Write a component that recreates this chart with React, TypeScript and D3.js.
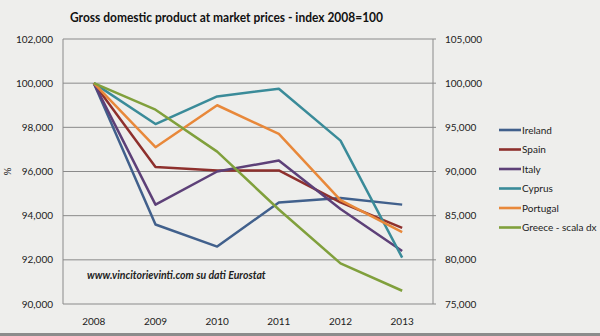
import React from "react";
import * as d3 from "d3";

const years = ["2008", "2009", "2010", "2011", "2012", "2013"];
const ireland = [100, 93.6, 92.6, 94.6, 94.8, 94.5];
const spain = [100, 96.2, 96.05, 96.05, 94.6, 93.45];
const italy = [100, 94.5, 96.0, 96.5, 94.3, 92.4];
const cyprus = [100, 98.15, 99.4, 99.75, 97.4, 92.1];
const portugal = [100, 97.1, 99.0, 97.7, 94.7, 93.25];
const greece = [100, 97.0, 92.25, 85.7, 79.6, 76.5];
const leftTicks = [90, 92, 94, 96, 98, 100, 102];
const rightTicks = [75, 80, 85, 90, 95, 100, 105];

const seriesNames = ["Ireland", "Spain", "Italy", "Cyprus", "Portugal", "Greece - scala dx"];
const seriesColors = ["#41608c", "#8e302d", "#5d4078", "#3a8b99", "#e8883a", "#80a03c"];

const W = 600, H = 336;
const plotL = 63, plotR = 433, plotT = 39, plotB = 304;

const fmt = d3.formatLocale({ decimal: ",", thousands: ".", grouping: [3], currency: ["", ""] }).format(".3f");
const FONT = "Lato, 'Open Sans', sans-serif";

export default function App() {
  const x = d3.scaleBand<string>().domain(years).range([plotL, plotR]);
  const cx = (d: string) => (x(d) as number) + x.bandwidth() / 2;
  const yL = d3.scaleLinear().domain([90, 102]).range([plotB, plotT]);
  const yR = d3.scaleLinear().domain([75, 105]).range([plotB, plotT]);

  const leftSeries = [ireland, spain, italy, cyprus, portugal];
  const lineL = d3.line<number>().x((_, i) => cx(years[i])).y((v) => yL(v));
  const lineR = d3.line<number>().x((_, i) => cx(years[i])).y((v) => yR(v));

  return (
    <svg width={W} height={H} style={{ position: "absolute", left: 0, top: 0, display: "block" }}>
      <rect x={0} y={0} width={W} height={H} fill="#eeeeec" />
      <rect x={0} y={333} width={W} height={3} fill="#8c8c8c" />
      <text x={70} y={22} fontFamily={FONT} fontWeight="bold" fontSize={13.5} textLength={313} lengthAdjust="spacingAndGlyphs" fill="#111">
        Gross domestic product at market prices - index 2008=100
      </text>
      {leftTicks.map((t) => (
        <g key={"l" + t}>
          <line x1={plotL} x2={plotR + 3} y1={yL(t)} y2={yL(t)} stroke="#8a8a8a" strokeWidth={1} />
          <text x={53} y={yL(t)} dy="0.35em" textAnchor="end" fontFamily={FONT} fontSize={10} fill="#222">
            {fmt(t)}
          </text>
        </g>
      ))}
      {rightTicks.map((t) => (
        <text key={"r" + t} x={445} y={yR(t)} dy="0.35em" fontFamily={FONT} fontSize={10} fill="#222">
          {fmt(t)}
        </text>
      ))}
      <line x1={plotL} x2={plotL} y1={plotT} y2={plotB} stroke="#8a8a8a" />
      <line x1={plotR} x2={plotR} y1={plotT} y2={plotB} stroke="#8a8a8a" />
      {years.map((yr) => (
        <text key={yr} x={cx(yr)} y={325} textAnchor="middle" fontFamily={FONT} fontSize={10} fill="#222">
          {yr}
        </text>
      ))}
      <text transform={`translate(11,${(plotT + plotB) / 2}) rotate(-90)`} textAnchor="middle" fontFamily={FONT} fontSize={10} fill="#222">
        %
      </text>
      <text x={87} y={279} fontFamily={FONT} fontWeight="bold" fontStyle="italic" fontSize={10.5} fill="#222">
        www.vincitorievinti.com su dati Eurostat
      </text>
      {leftSeries.map((s, i) => (
        <path key={seriesNames[i]} d={lineL(s) as string} fill="none" stroke={seriesColors[i]} strokeWidth={2.5} strokeLinejoin="round" />
      ))}
      <path d={lineR(greece) as string} fill="none" stroke={seriesColors[5]} strokeWidth={2.5} strokeLinejoin="round" />
      {seriesNames.map((n, i) => (
        <g key={"lg" + n} transform={`translate(499,${130 + i * 19.5})`}>
          <line x1={0} x2={22} y1={0} y2={0} stroke={seriesColors[i]} strokeWidth={2.6} />
          <text x={23} y={0} dy="0.35em" fontFamily={FONT} fontSize={10} fill="#222">
            {n}
          </text>
        </g>
      ))}
    </svg>
  );
}
